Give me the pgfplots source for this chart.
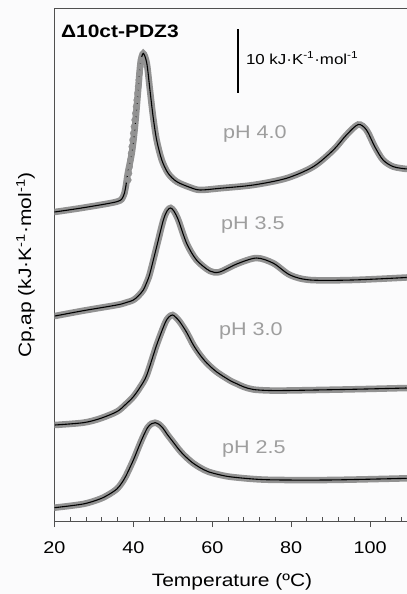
\documentclass[border=0pt]{standalone}
\usepackage{pgfplots}
\usepackage{pgfplotstable}
\pgfplotsset{compat=1.18}
\usepackage{fontspec}
\setmainfont{Liberation Sans}[FakeStretch=1.17]
\definecolor{band}{RGB}{146,146,146}
\definecolor{lab}{RGB}{158,158,158}
\definecolor{axc}{RGB}{80,80,80}
\definecolor{bg}{RGB}{251,251,252}

\pgfplotstableread{
T V
20.0 48.28
27.3 48.95
35.8 49.89
37.4 50.67
38.0 52.0
38.6 54.38
39.6 57.5
40.4 61.61
41.2 67.34
41.8 71.56
42.5 73.05
43.4 71.52
44.2 67.34
45.0 63.17
45.9 59.53
47.2 56.41
48.8 54.33
51.0 53.02
54.3 52.14
56.9 51.72
61.9 51.98
70.4 52.5
78.8 53.55
85.6 55.36
90.7 57.97
94.0 60.31
97.0 61.95
99.1 61.09
101.2 58.48
103.3 56.41
105.9 55.36
109.3 55.0
}\phfour

\pgfplotstableread{
T V
38.70 53.28
38.88 54.32
39.06 55.36
39.24 56.41
39.42 57.45
39.60 58.49
39.78 59.53
39.96 60.58
40.14 61.61
40.32 62.66
40.50 63.70
40.67 64.74
40.85 65.78
41.03 66.82
41.21 67.86
41.39 68.91
41.57 69.95
41.75 70.99
41.93 72.03
}\phfourdots

\pgfplotstableread{
T V
20.1 32.03
27.3 32.86
35.8 33.75
38.0 34.1
40.0 34.53
41.3 35.2
42.5 36.09
43.4 37.3
44.2 38.70
45.9 42.86
47.6 47.03
48.6 48.5
49.45 48.91
50.3 48.4
51.4 47.03
53.5 43.39
56.0 40.78
59.4 39.06
61.9 38.91
66.2 40.16
71.2 41.09
75.5 40.27
79.7 38.44
84.8 37.66
95.7 37.66
109.3 38.05
}\phthreefive

\pgfplotstableread{
T V
20.1 15.0
27.3 15.36
31.5 16.0
35.8 17.08
38.0 18.2
40.0 19.42
41.8 21.0
43.4 22.81
45.9 27.5
48.0 30.89
49.0 31.88
49.95 32.19
50.8 31.8
51.8 31.1
53.5 29.48
55.2 27.5
56.9 25.94
58.6 24.69
61.1 23.3
64.5 21.95
66.2 21.45
68.0 20.95
70.4 20.55
74.0 20.4
78.8 20.39
95.7 20.58
109.3 20.78
}\phthree

\pgfplotstableread{
T V
20.0 2.08
27.3 2.66
31.5 3.44
33.8 4.15
35.8 5.0
37.0 5.9
38.1 7.03
40.0 9.53
41.3 11.5
42.4 13.1
43.6 14.6
44.6 15.2
45.5 15.36
46.5 15.1
47.5 14.5
48.5 13.6
49.5 12.8
50.5 12.0
51.5 11.2
52.5 10.5
53.5 9.9
55.0 9.1
57.0 8.3
59.0 7.7
62.0 7.2
65.3 6.85
73.8 6.45
89.8 6.41
109.3 6.67
}\phtwofive

\begin{document}
\begin{tikzpicture}
\fill[bg] (-54.5bp,-73bp) rectangle (352.5bp,521bp);
\begin{axis}[
  at={(0,0)}, anchor=south west,
  scale only axis, width=355bp, height=512bp,
  xmin=20, xmax=110, ymin=0, ymax=80,
  xtick={20,40,...,120}, ytick=\empty,
  minor x tick num=4,
  xtick pos=left,
  xtick align=outside,
  major tick length=6bp, minor tick length=4bp,
  every minor tick/.append style={yshift=4bp},
  axis line style={axc, line width=1bp},
  every tick/.append style={axc, line width=0.9bp},
  /pgf/number format/assume math mode=true,
  ticklabel style={font=\fontsize{17}{20}\selectfont},
  xticklabel style={yshift=-11bp},
  xlabel={Temperature (ºC)},
  ylabel={Cp,ap (kJ·K\textsuperscript{-1}·mol\textsuperscript{-1})},
  label style={font=\fontsize{18}{21}\selectfont},
  xlabel style={at={(axis description cs:0.5,-0.127)}, anchor=base},
  ylabel style={at={(axis description cs:-0.0656,0.5)}, anchor=base},
]
% gray data bands
\addplot[color=band, line width=6.5bp, smooth, line cap=round] table {\phfour};
\addplot[color=band, only marks, mark=*, mark size=3.2bp, mark options={draw=band, fill=band, line width=0.1bp}] table {\phfourdots};
\addplot[color=band, line width=6.5bp, smooth, line cap=round] table {\phthreefive};
\addplot[color=band, line width=6.5bp, smooth, line cap=round] table {\phthree};
\addplot[color=band, line width=6.5bp, smooth, line cap=round] table {\phtwofive};
% black fits
\addplot[black, line width=1.1bp, smooth] table {\phfour};
\addplot[black, line width=1.1bp, smooth] table {\phthreefive};
\addplot[black, line width=1.1bp, smooth] table {\phthree};
\addplot[black, line width=1.1bp, smooth] table {\phtwofive};
% scale bar
\addplot[black, line width=1.3bp] coordinates {(66.5,66.875) (66.5,76.875)};
\node[anchor=base west, inner sep=0, font=\fontsize{18}{21}\selectfont\bfseries] at (axis cs:21.6,75.5) {Δ10ct-PDZ3};
\node[anchor=base west, inner sep=0, font=\fontsize{14.5}{18}\selectfont] at (axis cs:68.5,71.4) {10 kJ·K\textsuperscript{-1}·mol\textsuperscript{-1}};
\node[anchor=base west, inner sep=0, text=lab, font=\fontsize{18.5}{22}\selectfont] at (axis cs:62.7,59.69) {pH 4.0};
\node[anchor=base west, inner sep=0, text=lab, font=\fontsize{18.5}{22}\selectfont] at (axis cs:62.2,45.47) {pH 3.5};
\node[anchor=base west, inner sep=0, text=lab, font=\fontsize{18.5}{22}\selectfont] at (axis cs:61.7,29.06) {pH 3.0};
\node[anchor=base west, inner sep=0, text=lab, font=\fontsize{18.5}{22}\selectfont] at (axis cs:62.45,10.47) {pH 2.5};
\end{axis}
\pgfresetboundingbox
\path[use as bounding box] (-54.5bp,-73bp) rectangle (352.5bp,521bp);
\end{tikzpicture}
\end{document}
